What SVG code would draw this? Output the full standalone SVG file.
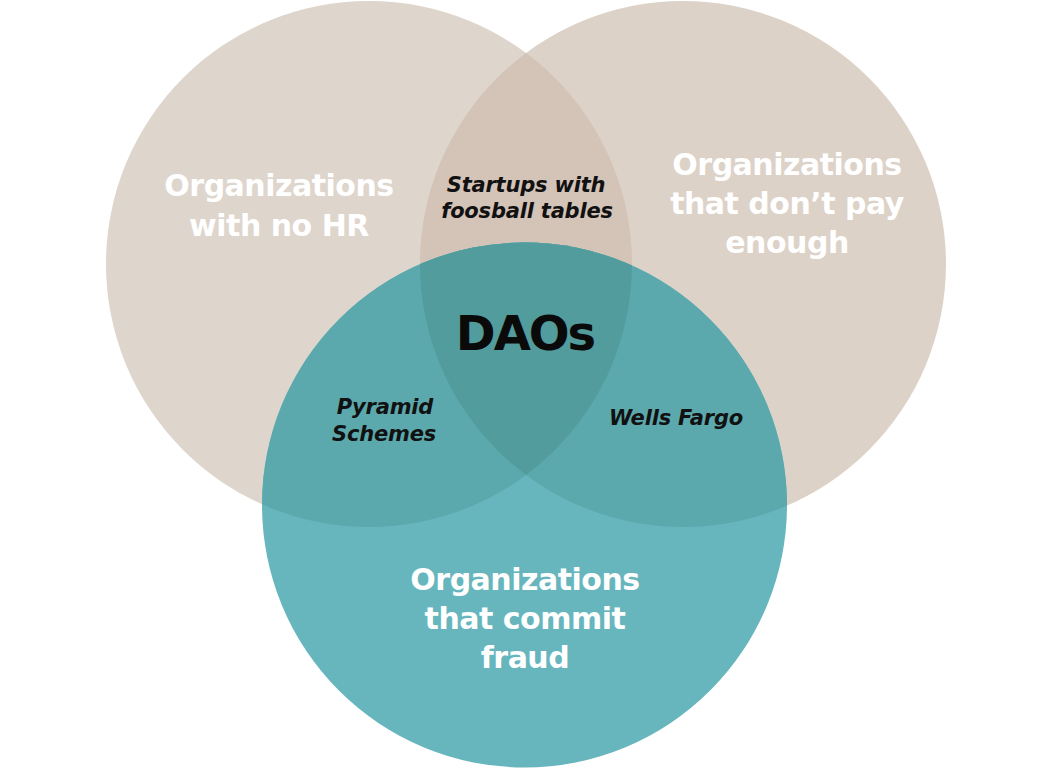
<svg xmlns="http://www.w3.org/2000/svg" width="1049" height="770" viewBox="0 0 1049 770">
  <defs>
    <clipPath id="clipL"><circle cx="369" cy="264" r="263"/></clipPath>
    <clipPath id="clipR"><circle cx="683" cy="264" r="263"/></clipPath>
    <style>
      .big { font-family: "DejaVu Sans", Verdana, sans-serif; font-weight: bold; font-size: 30px; fill: #ffffff; text-anchor: middle; letter-spacing: -0.5px; }
      .small { font-family: "DejaVu Sans", Verdana, sans-serif; font-weight: bold; font-style: italic; font-size: 21px; fill: #111111; text-anchor: middle; letter-spacing: -0.2px; }
      .dao { font-family: "DejaVu Sans", Verdana, sans-serif; font-weight: bold; font-size: 48px; fill: #0a0a0a; text-anchor: middle; letter-spacing: -2px; }
    </style>
  </defs>
  <rect width="1049" height="770" fill="#ffffff"/>

  <g id="circle-no-hr">
    <circle cx="369" cy="264" r="263" fill="#ded5cc"/>
  </g>
  <g id="circle-dont-pay">
    <circle cx="683" cy="264" r="263" fill="#ddd2c8"/>
  </g>
  <g id="overlap-startups">
    <circle cx="683" cy="264" r="263" fill="#d4c3b7" clip-path="url(#clipL)"/>
  </g>
  <g id="circle-fraud">
    <circle cx="524.5" cy="505" r="262.5" fill="#67b6be"/>
  </g>
  <g id="overlap-pyramid">
    <circle cx="524.5" cy="505" r="262.5" fill="#5ba9ad" clip-path="url(#clipL)"/>
  </g>
  <g id="overlap-wells">
    <circle cx="524.5" cy="505" r="262.5" fill="#5ba9ad" clip-path="url(#clipR)"/>
  </g>
  <g id="overlap-daos">
    <g clip-path="url(#clipL)">
      <circle cx="524.5" cy="505" r="262.5" fill="#539c9d" clip-path="url(#clipR)"/>
    </g>
  </g>

  <g id="connectors"/>

  <g id="label-no-hr">
    <text class="big" x="279" y="196">Organizations</text>
    <text class="big" x="279" y="236">with no HR</text>
  </g>
  <g id="label-dont-pay">
    <text class="big" x="787" y="175">Organizations</text>
    <text class="big" x="787" y="214">that don’t pay</text>
    <text class="big" x="787" y="253">enough</text>
  </g>
  <g id="label-fraud">
    <text class="big" x="525" y="590">Organizations</text>
    <text class="big" x="525" y="629">that commit</text>
    <text class="big" x="525" y="668">fraud</text>
  </g>
  <g id="label-startups">
    <text class="small" x="526" y="192">Startups with</text>
    <text class="small" x="527" y="218">foosball tables</text>
  </g>
  <g id="label-daos">
    <text class="dao" x="525" y="350">DAOs</text>
  </g>
  <g id="label-pyramid">
    <text class="small" x="385" y="414">Pyramid</text>
    <text class="small" x="384" y="441">Schemes</text>
  </g>
  <g id="label-wells">
    <text class="small" x="676" y="425">Wells Fargo</text>
  </g>
</svg>
